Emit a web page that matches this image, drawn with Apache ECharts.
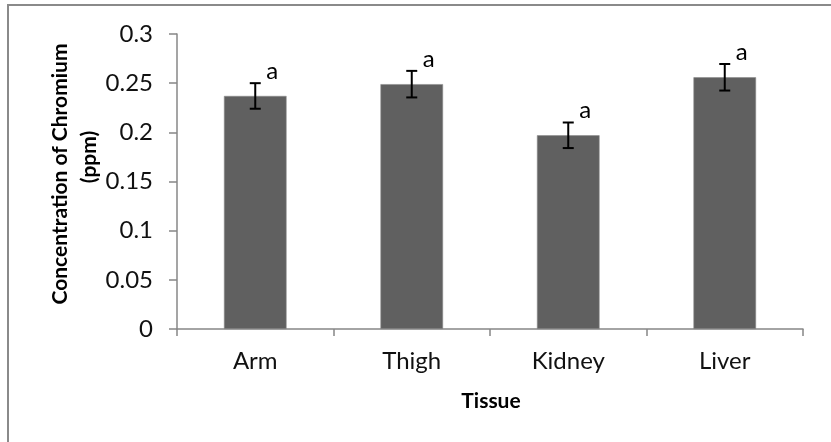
<!DOCTYPE html>
<html>
<head>
<meta charset="utf-8">
<style>
  html, body { margin: 0; padding: 0; background: #fff; }
  #chart { width: 831px; height: 442px; }
</style>
<script src="https://cdn.jsdelivr.net/npm/echarts@6/dist/echarts.min.js"></script>
</head>
<body>
<div id="chart"></div>
<script>
// Chromium concentration per tissue (ppm), with standard error and group letters
const categories = ['Arm', 'Thigh', 'Kidney', 'Liver'];
const means = [0.237, 0.249, 0.197, 0.256];
const errors = [0.013, 0.0135, 0.013, 0.0135];
const letters = ['a', 'a', 'a', 'a'];
const yMin = 0, yMax = 0.3, yStep = 0.05;

const FONT = 'Lato, "Open Sans", sans-serif';
const AXIS_GREY = '#878787';
const LABEL_SIZE = 24;

const errorData = categories.map((c, i) => [i, means[i] - errors[i], means[i] + errors[i]]);

const chart = echarts.init(document.getElementById('chart'), null, { renderer: 'canvas' });
chart.setOption({
  animation: false,
  backgroundColor: '#fff',
  grid: { left: 177, right: 28, top: 34, bottom: 113, containLabel: false },
  xAxis: {
    type: 'category',
    data: categories,
    axisLine: { lineStyle: { color: AXIS_GREY, width: 1.5 } },
    axisTick: { show: true, length: 7, lineStyle: { color: AXIS_GREY, width: 1.5 } },
    axisLabel: { color: '#111', fontFamily: FONT, fontSize: LABEL_SIZE, margin: 20 },
    splitLine: { show: false }
  },
  yAxis: {
    type: 'value',
    min: yMin, max: yMax, interval: yStep,
    axisLine: { show: true, lineStyle: { color: AXIS_GREY, width: 1.5 } },
    axisTick: { show: true, length: 8, inside: false, lineStyle: { color: AXIS_GREY, width: 1.5 } },
    axisLabel: { color: '#111', fontFamily: FONT, fontSize: LABEL_SIZE, margin: 24 },
    splitLine: { show: false }
  },
  graphic: [
    {
      type: 'rect', z: -1, silent: true,
      shape: { x: 8, y: 5, width: 840, height: 460 },
      style: { fill: 'none', stroke: '#8a8a8a', lineWidth: 2 }
    },
    {
      type: 'text', silent: true,
      x: 60, y: 174, rotation: Math.PI / 2,
      style: {
        text: 'Concentration of Chromium', fontFamily: FONT, fontWeight: 'bold',
        fontSize: 21, fill: '#000', align: 'center', verticalAlign: 'middle'
      }
    },
    {
      type: 'text', silent: true,
      x: 89, y: 157, rotation: Math.PI / 2,
      style: {
        text: '(ppm)', fontFamily: FONT, fontWeight: 'bold',
        fontSize: 21, fill: '#000', align: 'center', verticalAlign: 'middle'
      }
    },
    {
      type: 'text', silent: true,
      x: 491, y: 401,
      style: {
        text: 'Tissue', fontFamily: FONT, fontWeight: 'bold',
        fontSize: 21, fill: '#000', align: 'center', verticalAlign: 'middle'
      }
    }
  ],
  series: [
    {
      type: 'bar',
      data: means,
      barWidth: '40%',
      itemStyle: { color: '#606060', borderColor: '#8c8c8c', borderWidth: 0.6 }
    },
    {
      type: 'custom',
      data: errorData,
      z: 10,
      renderItem: function (params, api) {
        const idx = api.value(0);
        const lo = api.coord([idx, api.value(1)]);
        const hi = api.coord([idx, api.value(2)]);
        const cap = 5.5;
        const stroke = { stroke: '#000', lineWidth: 2 };
        return {
          type: 'group',
          children: [
            { type: 'line', shape: { x1: hi[0], y1: hi[1], x2: lo[0], y2: lo[1] }, style: stroke },
            { type: 'line', shape: { x1: hi[0] - cap, y1: hi[1], x2: hi[0] + cap, y2: hi[1] }, style: stroke },
            { type: 'line', shape: { x1: lo[0] - cap, y1: lo[1], x2: lo[0] + cap, y2: lo[1] }, style: stroke },
            {
              type: 'text',
              x: hi[0] + 17, y: hi[1] - 12,
              style: {
                text: letters[params.dataIndex], fontFamily: FONT, fontSize: LABEL_SIZE,
                fill: '#000', align: 'center', verticalAlign: 'middle'
              }
            }
          ]
        };
      }
    }
  ]
});
</script>
</body>
</html>
